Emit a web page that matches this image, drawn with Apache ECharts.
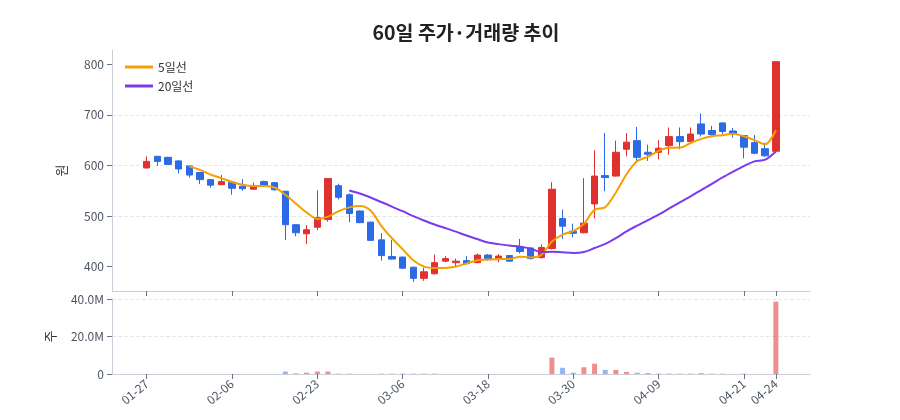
<!DOCTYPE html>
<html>
<head>
<meta charset="utf-8">
<script src="https://cdn.jsdelivr.net/npm/echarts@6/dist/echarts.min.js"></script>
<style>
html,body{margin:0;padding:0;background:#fff}
#chart{width:900px;height:420px}
</style>
</head>
<body>
<div id="chart"></div>
<script>
// 날짜 (60 거래일)
let dates = ['01-27','01-28','01-29','01-30','01-31','02-03','02-04','02-05','02-06',
  '02-07','02-10','02-11','02-12','02-13','02-17','02-20','02-23',
  '02-24','02-25','02-26','02-27','02-28','03-03','03-05','03-06',
  '03-07','03-10','03-11','03-12','03-13','03-14','03-17','03-18',
  '03-19','03-20','03-21','03-24','03-25','03-26','03-27','03-30',
  '03-31','04-01','04-02','04-03','04-04','04-07','04-08','04-09',
  '04-10','04-11','04-14','04-15','04-16','04-17','04-18','04-21',
  '04-22','04-23','04-24'];
let open  = [595,618,616,609,599,586,572,562,567,559,553,568,566,549,483,465,478,493,560,542,
             510,488,453,420,419,399,377,386,411,408,412,408,423,414,422,440,437,418,436,495,
             470,467,524,580,579,632,649,626,626,639,657,647,682,669,684,668,659,645,633,628];
let close = [608,608,602,593,581,572,561,568,555,554,560,561,552,483,467,473,497,574,537,505,
             487,452,422,415,397,377,390,408,416,411,406,423,414,421,411,430,416,438,553,480,
             466,486,579,576,626,646,616,622,634,657,647,662,662,661,667,662,636,624,619,805];
let low   = [594,599,601,584,576,563,556,561,542,550,552,560,550,453,460,445,472,489,533,488,
             486,451,412,414,396,370,372,385,409,399,405,407,412,409,410,426,414,416,434,455,
             458,466,495,549,578,618,605,609,612,621,632,645,657,658,662,655,614,622,617,627];
let high  = [618,619,617,610,600,587,573,581,568,573,566,570,567,550,484,482,551,575,564,545,
             511,489,466,453,420,400,398,424,421,416,421,426,425,425,423,455,438,444,567,513,
             485,575,630,664,649,664,676,641,650,675,675,675,703,678,685,674,660,660,645,805];
// 거래량 (백만 주)
let volume = [0,0,0,0,0,0,0,0,0,0,0,0,0,1.3,0.4,0.7,1.3,1.3,0.2,0.2,
              0,0,0.2,0.2,0.2,0.2,0.2,0.2,0,0,0,0,0,0,0,0,0,0,8.7,3.3,
              0.7,3.6,5.5,2.2,2.2,1.1,0.7,0.55,0.2,0.2,0.2,0.2,0.5,0.2,0.2,0,0.2,0,0,38.6];
let tickIdx = [0,8,16,24,32,40,48,56,59];
let priceTicks = [400,500,600,700,800];

const UP = '#e03131', DOWN = '#2d6be6';
const AXIS = '#c9ced8', LABEL = '#4b5563';

function movingAvg(n) {
    let out = [];
    close.forEach(function (c, i) {
        if (i < n - 1) return;
        let s = 0;
        for (let k = i - n + 1; k <= i; k++) s += close[k];
        out.push([i, s / n]);
    });
    return out;
}

let chart = echarts.init(document.getElementById('chart'));

let option = {
    animation: false,
    textStyle: {fontFamily: 'Noto Sans CJK KR'},
    title: {
        text: '60일 주가·거래량 추이',
        left: 461,
        textAlign: 'center',
        top: 18,
        textStyle: {fontSize: 19.5, fontWeight: 'bold', color: '#222'}
    },
    legend: {
        data: ['5일선', '20일선'],
        orient: 'vertical',
        left: 120,
        top: 56,
        icon: 'rect',
        itemWidth: 28,
        itemHeight: 3,
        itemGap: 7,
        textStyle: {fontSize: 12, color: '#333'}
    },
    grid: [
        {left: 112, right: 90, top: 50, height: 241},
        {left: 112, right: 90, top: 299, height: 75}
    ],
    xAxis: [{
        type: 'value', gridIndex: 0, min: -3.25, max: 62.2,
        axisLine: {onZero: false, lineStyle: {color: AXIS}},
        axisTick: {customValues: tickIdx, lineStyle: {color: '#6b7280'}},
        axisLabel: {show: false},
        splitLine: {show: false}
    }, {
        type: 'value', gridIndex: 1, min: -3.25, max: 62.2,
        axisLine: {onZero: false, lineStyle: {color: AXIS}},
        axisTick: {customValues: tickIdx, lineStyle: {color: '#6b7280'}},
        axisLabel: {
            customValues: tickIdx, rotate: 40, fontSize: 12, color: LABEL, margin: 8,
            formatter: function (v) { return dates[v]; }
        },
        splitLine: {show: false}
    }],
    yAxis: [{
        type: 'value', gridIndex: 0, min: 352, max: 828,
        name: '원', nameLocation: 'middle', nameGap: 44,
        nameTextStyle: {fontSize: 13, color: '#333'},
        axisLine: {show: true, onZero: false, lineStyle: {color: AXIS}},
        axisTick: {show: true, customValues: priceTicks, lineStyle: {color: '#6b7280'}},
        axisLabel: {customValues: priceTicks, fontSize: 12, color: LABEL},
        splitLine: {showMinLine: false, showMaxLine: false, lineStyle: {type: 'dashed', color: '#e5e7eb'}}
    }, {
        type: 'value', gridIndex: 1, min: 0, max: 40e6, interval: 20e6,
        name: '주', nameLocation: 'middle', nameGap: 55,
        nameTextStyle: {fontSize: 13, color: '#333'},
        axisLine: {show: true, onZero: false, lineStyle: {color: AXIS}},
        axisTick: {show: true, lineStyle: {color: '#6b7280'}},
        axisLabel: {
            fontSize: 12, color: LABEL,
            formatter: function (v) { return v === 0 ? '0' : (v / 1e6).toFixed(1) + 'M'; }
        },
        splitLine: {lineStyle: {type: 'dashed', color: '#e5e7eb'}}
    }],
    series: [{
        type: 'candlestick',
        xAxisIndex: 0, yAxisIndex: 0,
        barWidth: 7,
        data: dates.map(function (d, i) { return [i, open[i], close[i], low[i], high[i]]; }),
        itemStyle: {color: UP, color0: DOWN, borderColor: UP, borderColor0: DOWN, borderWidth: 1}
    }, {
        name: '5일선', type: 'line', xAxisIndex: 0, yAxisIndex: 0,
        data: movingAvg(5), symbol: 'none', smooth: 0.3,
        lineStyle: {color: '#f59f00', width: 2}, itemStyle: {color: '#f59f00'}
    }, {
        name: '20일선', type: 'line', xAxisIndex: 0, yAxisIndex: 0,
        data: movingAvg(20), symbol: 'none', smooth: 0.3,
        lineStyle: {color: '#7c3aed', width: 2}, itemStyle: {color: '#7c3aed'}
    }, {
        type: 'bar', xAxisIndex: 1, yAxisIndex: 1,
        barWidth: 5,
        data: volume.map(function (v, i) { return [i, v * 1e6]; }),
        itemStyle: {
            color: function (p) {
                let i = p.data[0];
                return close[i] >= open[i] ? 'rgba(224,49,49,0.55)' : 'rgba(45,107,230,0.5)';
            }
        }
    }]
};
chart.setOption(option);
</script>
</body>
</html>
